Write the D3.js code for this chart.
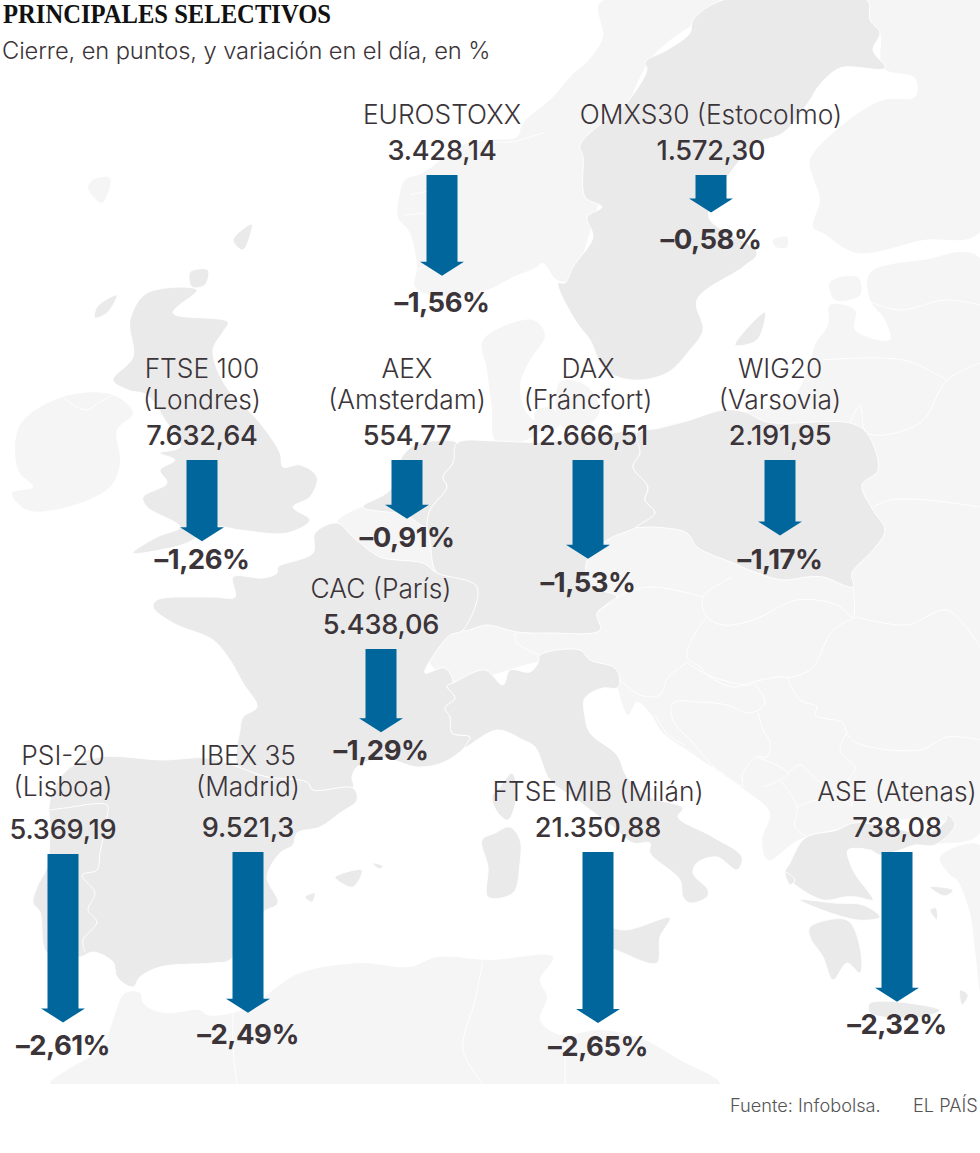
<!DOCTYPE html>
<html lang="es">
<head>
<meta charset="utf-8">
<title>Principales selectivos</title>
<script src="https://cdn.jsdelivr.net/npm/d3@7"></script>
<style>
  html, body { margin: 0; padding: 0; background: #fff; }
  svg { display: block; }
  text { font-family: Inter, "Open Sans", sans-serif; fill: #3b3439; }
  .titulo { font-family: "Liberation Serif", serif; font-weight: 700; font-size: 27px; fill: #111; }
  .subtitulo { font-weight: 300; font-size: 23.7px; letter-spacing: -0.1px; }
  .nombre { font-weight: 300; font-size: 26.3px; text-anchor: middle; }
  .cierre { font-weight: 500; font-size: 27.2px; text-anchor: middle; letter-spacing: -0.2px; }
  .variacion { font-weight: 700; font-size: 27.5px; text-anchor: middle; letter-spacing: -0.5px; }
  .pie { font-weight: 300; font-size: 18.2px; fill: #555; }
</style>
</head>
<body>
<svg id="grafico" width="980" height="1153"></svg>
<script>
// datos
const nombres = [
  ['EUROSTOXX'], ['OMXS30 (Estocolmo)'],
  ['FTSE 100', '(Londres)'], ['AEX', '(Amsterdam)'], ['DAX', '(Fráncfort)'], ['WIG20', '(Varsovia)'],
  ['CAC (París)'],
  ['PSI-20', '(Lisboa)'], ['IBEX 35', '(Madrid)'], ['FTSE MIB (Milán)'], ['ASE (Atenas)']
];
const cierres = ['3.428,14', '1.572,30', '7.632,64', '554,77', '12.666,51', '2.191,95', '5.438,06', '5.369,19', '9.521,3', '21.350,88', '738,08'];
const variaciones = [-1.56, -0.58, -1.26, -0.91, -1.53, -1.17, -1.29, -2.61, -2.49, -2.65, -2.32];

// colocación de cada índice sobre el mapa
const centrosX = [442, 711, 202, 407, 588, 780, 381, 63, 248, 598, 897];
const iniciosY = [175, 175, 460, 460, 460, 460, 649, 854, 852, 852, 852];
const huecosPie = [36, 37, 28, 28, 33, 34, 28, 33, 31, 33, 32];
const huecosNombre = [36, 36, 36, 36, 36, 36, 36, 43, 41, 36, 36];

// mapa de fondo (contornos en píxeles, a ojo)
const tierraClara = [
  // continente
  [[560,445],[637,433],[690,420],[745,412],[790,400],[808,370],[815,345],[828,325],[830,305],[855,310],[855,330],[890,340],[885,320],[870,300],[870,273],[923,260],[980,258],[980,833],[945,843],[935,843],[945,822],[805,837],[768,860],[762,840],[770,813],[745,790],[720,773],[687,750],[663,733],[650,713],[637,702],[628,715],[620,697],[617,688],[560,660],[450,680],[420,640],[430,520],[470,450]],
  // Noruega
  [[600,3],[603,37],[587,62],[572,75],[553,97],[523,123],[517,137],[490,140],[462,145],[423,173],[405,180],[400,193],[398,217],[410,233],[417,267],[415,287],[440,297],[487,290],[513,277],[537,267],[543,263],[557,280],[570,280],[600,200],[650,60],[723,0]],
  // Finlandia y Rusia
  [[867,0],[980,0],[980,232],[923,240],[857,253],[823,233],[813,227],[820,200],[813,177],[810,160],[840,127],[883,100],[915,97],[915,78],[883,68],[880,33],[870,20]],
  // Irlanda
  [[20,425],[63,397],[113,395],[133,413],[117,430],[120,463],[110,487],[67,507],[27,510],[12,493],[33,487],[18,470]],
  // Dinamarca
  [[483,340],[533,320],[545,335],[530,360],[520,385],[525,410],[540,430],[520,442],[495,440],[492,410],[487,370]],
  [[535,412],[552,408],[560,425],[540,432]],
  [[560,382],[585,385],[600,410],[580,430],[560,425]],
  // Bélgica
  [[337,523],[363,507],[385,508],[415,517],[427,527],[430,540],[437,573],[423,563],[397,560],[380,557],[353,537]],
  // Norte de África
  [[50,1084],[67,1070],[103,1047],[113,1020],[125,993],[140,993],[143,1003],[163,1013],[200,1010],[207,1015],[233,1013],[260,1000],[277,987],[300,973],[360,963],[410,967],[437,957],[490,960],[553,957],[540,980],[547,997],[540,1020],[560,1035],[600,1030],[640,1038],[680,1060],[720,1084]],
  // Anatolia
  [[980,845],[940,857],[950,875],[957,880],[970,913],[975,950],[980,990]],
  // islas pequeñas
  [[93,180],[110,178],[102,203],[88,188]],
  [[773,240],[787,237],[787,247],[776,247]],
  [[830,282],[858,277],[860,295],[835,300]]
];

const tierraOscura = [
  // Suecia
  [[723,0],[867,0],[870,20],[880,33],[873,50],[885,68],[840,68],[818,87],[810,100],[783,133],[757,143],[730,173],[710,207],[710,220],[757,253],[743,267],[697,300],[703,330],[690,350],[667,373],[633,380],[605,370],[590,340],[575,320],[558,283],[565,283],[573,267],[593,237],[587,217],[602,207],[585,197],[583,157],[580,145],[597,127],[623,107],[647,70],[645,62],[667,50],[690,33],[693,20]],
  [[735,345],[765,312],[757,340]],
  // Reino Unido
  [[197,290],[173,313],[228,322],[223,332],[213,350],[225,385],[260,423],[280,453],[283,467],[300,465],[317,477],[310,497],[293,507],[310,520],[287,533],[240,530],[215,527],[187,543],[160,550],[133,553],[157,537],[180,527],[147,507],[143,497],[167,483],[160,470],[175,460],[160,453],[180,447],[165,420],[147,395],[128,390],[113,380],[133,357],[130,320],[147,293]],
  [[190,272],[208,270],[205,285],[192,287]],
  [[233,240],[252,224],[243,250]],
  [[97,307],[117,295],[108,312],[95,318]],
  // Países Bajos
  [[363,507],[390,490],[400,460],[415,445],[457,443],[453,463],[443,477],[447,487],[430,510],[427,527],[405,515]],
  // Alemania
  [[457,443],[495,441],[520,442],[545,442],[590,437],[637,433],[640,453],[633,467],[648,487],[645,500],[655,513],[637,527],[607,540],[587,560],[590,585],[617,597],[597,613],[600,630],[550,633],[517,632],[487,625],[463,630],[477,587],[437,573],[430,540],[427,527],[430,510],[447,487],[443,477],[453,463]],
  // Polonia
  [[637,433],[660,428],[690,420],[723,410],[745,412],[767,422],[850,423],[867,433],[878,470],[862,485],[873,510],[885,530],[873,550],[852,573],[853,587],[823,577],[807,577],[783,580],[757,573],[733,563],[697,547],[687,533],[653,527],[637,527],[655,513],[645,500],[648,487],[633,467],[640,453]],
  // Francia
  [[337,523],[353,537],[380,557],[397,560],[423,563],[437,573],[477,587],[463,630],[450,635],[437,650],[425,673],[445,668],[453,683],[447,686],[455,698],[445,708],[450,717],[452,733],[470,737],[465,747],[442,763],[417,767],[383,758],[357,767],[352,777],[353,788],[313,790],[307,782],[267,777],[238,767],[240,730],[243,717],[257,707],[243,683],[230,660],[213,640],[173,623],[153,607],[157,600],[213,597],[235,597],[233,577],[263,578],[277,573],[278,567],[313,553],[315,533]],
  // Italia
  [[447,686],[453,683],[485,670],[503,685],[510,670],[530,672],[538,663],[540,655],[580,650],[590,660],[615,668],[620,680],[617,688],[603,688],[585,698],[585,717],[590,733],[617,755],[627,777],[650,797],[683,808],[678,817],[713,837],[742,857],[737,870],[717,857],[697,863],[693,873],[708,890],[707,897],[690,903],[683,897],[680,880],[650,853],[650,843],[633,843],[613,827],[577,800],[550,780],[535,747],[523,740],[497,730],[465,747],[470,737],[452,733],[450,717],[445,708],[455,698]],
  [[590,922],[625,930],[670,918],[660,937],[657,963],[623,953],[590,935]],
  [[510,827],[520,840],[520,863],[513,893],[488,897],[488,867],[482,840],[495,833]],
  [[512,773],[517,793],[508,820],[498,813],[492,797],[500,787]],
  // España y Portugal
  [[50,800],[67,770],[100,757],[163,760],[207,758],[238,767],[267,777],[307,782],[313,790],[353,788],[357,800],[340,813],[320,827],[297,833],[293,845],[280,853],[267,877],[278,903],[263,912],[245,935],[230,960],[213,963],[160,967],[140,977],[133,987],[117,977],[113,962],[93,952],[80,957],[47,953],[40,912],[33,903],[37,887],[47,867],[50,830]],
  [[335,877],[362,870],[353,887],[337,880]],
  [[372,863],[383,866],[380,869]],
  [[305,897],[315,893],[312,902]],
  // Grecia
  [[805,838],[837,830],[853,823],[880,825],[927,833],[945,822],[948,815],[955,825],[935,845],[915,845],[900,850],[880,855],[870,850],[848,850],[850,863],[857,877],[867,890],[873,900],[857,897],[845,897],[823,900],[793,883],[785,873],[790,863]],
  [[800,900],[857,920],[880,917],[863,905],[835,903]],
  [[810,927],[847,920],[860,947],[860,973],[847,963],[833,980],[823,957],[810,937]],
  [[870,1003],[940,1010],[923,1017],[870,1013]],
  [[930,887],[953,890],[945,896]],
  [[930,910],[936,908],[937,920]],
  [[960,990],[968,995],[962,1005]],
  [[785,872],[795,880],[790,885]]
];

const fronteras = [
  [[597,613],[617,597],[650,587],[703,597]],
  [[733,577],[703,597],[707,617],[723,625],[753,620],[797,600],[837,605],[853,617],[853,587]],
  [[707,617],[697,630],[687,657],[700,667],[710,677],[733,687],[753,682],[777,677],[793,677],[813,667],[833,630],[857,617]],
  [[857,617],[907,625],[947,610],[980,647]],
  [[787,677],[800,700],[817,707],[815,715],[843,723],[847,733],[857,743],[920,750],[947,737],[980,740]],
  [[847,733],[840,750],[855,768],[847,783],[853,807]],
  [[687,663],[713,677],[750,685],[753,683],[765,703],[750,713],[727,705],[700,702],[673,703],[673,720],[693,743],[717,770],[743,787]],
  [[758,713],[763,730],[770,742],[767,757],[757,757],[743,773],[743,787]],
  [[757,757],[788,773],[780,780],[763,787]],
  [[780,780],[797,807],[795,827],[807,837]],
  [[788,773],[800,765],[817,780],[853,807]],
  [[797,807],[817,800],[850,800]],
  [[620,680],[640,695],[660,695],[668,677],[687,663]],
  [[515,633],[517,643],[540,655]],
  [[873,507],[890,500],[927,500],[980,507]],
  [[850,423],[860,405],[867,433],[920,423],[947,380],[980,363]],
  [[823,360],[903,360],[947,380]],
  [[865,300],[900,310],[945,300],[980,305]],
  [[50,810],[65,808],[107,805],[107,817],[100,853],[97,870],[82,875],[95,893],[88,910],[97,922],[83,940],[85,952]],
  [[233,1013],[233,1047],[237,1084]],
  [[483,961],[475,1000],[463,1050],[483,1084]],
  [[565,1040],[565,1084]],
  [[63,397],[85,410],[100,402],[113,395]]
];

// entrantes blancos de la costa noruega y dálmata
const fiordos = [
  [[575,60],[545,75],[520,100]], [[590,45],[560,50]], [[500,115],[470,125],[445,145]],
  [[545,132],[510,142],[475,140]], [[410,195],[432,190]], [[405,215],[425,213]], [[415,270],[440,262]],
  [[655,715],[668,735],[685,745]], [[700,760],[725,775]]
];

const svg = d3.select('#grafico');

svg.append('defs').append('clipPath').attr('id', 'recorte')
  .append('rect').attr('width', 980).attr('height', 1084);

const linea = d3.line();
const contorno = d3.line().curve(d3.curveCatmullRomClosed.alpha(0.5));
const mapa = svg.append('g').attr('clip-path', 'url(#recorte)');

// primero los países claros, encima los que tienen índice
mapa.selectAll('.clara').data(tierraClara).enter().append('path')
  .attr('d', contorno)
  .attr('fill', '#f5f5f5');

mapa.selectAll('.oscura').data(tierraOscura).enter().append('path')
  .attr('d', contorno)
  .attr('fill', '#eaeaea')
  .attr('stroke', '#fff').attr('stroke-width', 1).attr('stroke-linejoin', 'round');

mapa.selectAll('.frontera').data(fronteras.concat(fiordos)).enter().append('path')
  .attr('d', d3.line().curve(d3.curveCatmullRom.alpha(0.5)))
  .attr('fill', 'none')
  .attr('stroke', '#fff').attr('stroke-width', 1);

// cabecera
svg.append('text').attr('class', 'titulo').attr('x', 3).attr('y', 23)
  .attr('textLength', 328).attr('lengthAdjust', 'spacingAndGlyphs')
  .text('PRINCIPALES SELECTIVOS');
svg.append('text').attr('class', 'subtitulo').attr('x', 2).attr('y', 59).text('Cierre, en puntos, y variación en el día, en %');

// flechas: largo proporcional a la caída
const fnLargo = d3.scaleLinear().domain([0, 2.65]).range([0, 171]);
const es = d3.formatLocale({ decimal: ',', thousands: '.', grouping: [3], currency: ['', ''], minus: '–' });
const fmtVariacion = es.format('.2f');

const anchoCuerpo = 31, anchoPunta = 44, altoPunta = 14;

function flecha(cx, y0, largo) {
  const p = d3.path();
  const yPunta = y0 + largo;
  p.moveTo(cx - anchoCuerpo / 2, y0);
  p.lineTo(cx + anchoCuerpo / 2, y0);
  p.lineTo(cx + anchoCuerpo / 2, yPunta - altoPunta);
  p.lineTo(cx + anchoPunta / 2, yPunta - altoPunta);
  p.lineTo(cx, yPunta);
  p.lineTo(cx - anchoPunta / 2, yPunta - altoPunta);
  p.lineTo(cx - anchoCuerpo / 2, yPunta - altoPunta);
  p.closePath();
  return p.toString();
}

const indices = svg.selectAll('.indice').data(d3.range(nombres.length)).enter().append('g').classed('indice', true);

indices.append('path')
  .attr('d', (i) => flecha(centrosX[i], iniciosY[i], fnLargo(-variaciones[i])))
  .attr('fill', '#00669b');

indices.append('text').classed('cierre', true)
  .attr('x', (i) => centrosX[i])
  .attr('y', (i) => iniciosY[i] - 15)
  .text((i) => cierres[i]);

indices.append('text').classed('variacion', true)
  .attr('x', (i) => centrosX[i])
  .attr('y', (i) => iniciosY[i] + fnLargo(-variaciones[i]) + huecosPie[i])
  .text((i) => fmtVariacion(variaciones[i]) + '%');

indices.each(function (i) {
  const base = iniciosY[i] - 15 - huecosNombre[i];
  const n = nombres[i].length;
  nombres[i].forEach((t, k) => {
    d3.select(this).append('text').classed('nombre', true)
      .attr('x', centrosX[i])
      .attr('y', base - (n - 1 - k) * 31)
      .text(t);
  });
});

// pie
svg.append('text').attr('class', 'pie').attr('x', 730).attr('y', 1112).text('Fuente: Infobolsa.');
svg.append('text').attr('class', 'pie').attr('x', 913).attr('y', 1112).text('EL PAÍS');
</script>
</body>
</html>
